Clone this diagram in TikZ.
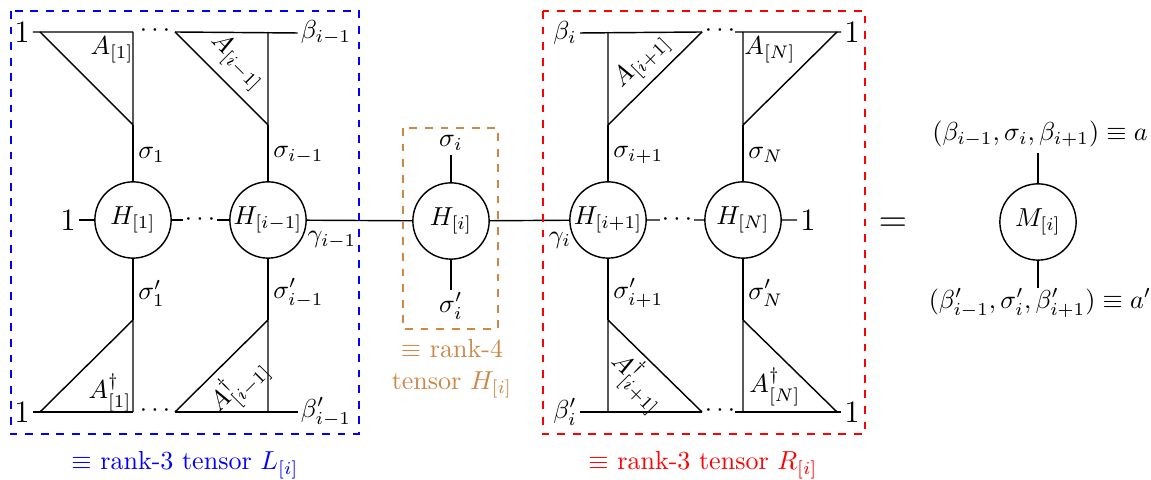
\documentclass[tikz,border=0pt]{standalone}
\usepackage{amssymb}
\usetikzlibrary{positioning}
\definecolor{rankbrown}{RGB}{205,135,70}

\begin{document}
\begin{tikzpicture}[
  x=0.0135cm, y=-0.0135cm, line width=0.55pt,
  tens/.style={draw, circle, minimum size=1.03cm, inner sep=0pt},
  lab/.style={inner sep=1pt},
  one/.style={inner sep=1pt, font=\large},
  dts/.style={inner sep=0.5pt},
  box/.style={dashed, semithick}
]
\useasboundingbox (0,0) rectangle (1151,480);

% left environment
\node[tens] (h1) at (133,220) {$H_{[1]}$};
\node[tens] (hl) at (268,220) {$H_{[i-1]}$};
\node[one] (l1) at (68,220) {1};
\node[dts] (ldots) at (200,220) {$\cdots$};
\draw (l1) -- (h1) -- (ldots) -- (hl);

\node[one] (tl1) at (22,32) {1};
\node[one] (bl1) at (22,412) {1};
\node[lab] (btl) at (326,33) {$\beta_{i-1}$};
\node[lab] (bbl) at (326,412) {$\beta'_{i-1}$};
\node[dts] at (155,31) {$\cdots$};
\node[dts] at (155,411) {$\cdots$};
\draw (tl1.east) -- (133,32) (175,32) -- (btl.west);
\draw (bl1.east) -- (133,412) (175,412) -- (bbl.west);
\draw (40,32) -- (133,125) -- (133,32);
\draw (175,32) -- (268,125) -- (268,32);
\draw (40,412) -- (133,320) -- (133,412);
\draw (175,412) -- (268,320) -- (268,412);
\draw (133,125) -- (h1) -- (133,320);
\draw (268,125) -- (hl) -- (268,320);
\node[lab] at (112,50) {$A_{[1]}$};
\node[lab, rotate=-45] at (237,62) {$A_{[i-1]}$};
\node[lab] at (110,393) {$A^\dagger_{[1]}$};
\node[lab, rotate=45] at (238,386) {$A^\dagger_{[i-1]}$};
\node[lab, anchor=west] at (135,155) {$\sigma_1$};
\node[lab, anchor=west] at (270,155) {$\sigma_{i-1}$};
\node[lab, anchor=west] at (135,293) {$\sigma'_1$};
\node[lab, anchor=west] at (270,293) {$\sigma'_{i-1}$};

% middle tensor
\node[tens] (hi) at (451,221) {$H_{[i]}$};
\node[lab] (si) at (451,143) {$\sigma_i$};
\node[lab] (sip) at (451,306) {$\sigma'_i$};
\draw (hi) -- (451,155) (hi) -- (451,290);
\draw (hl) -- (hi);
\node[lab] at (332,240) {$\gamma_{i-1}$};

% right environment
\node[tens] (hr) at (608,220) {$H_{[i+1]}$};
\node[tens] (hn) at (743,220) {$H_{[N]}$};
\node[one] (r1) at (808,220) {1};
\node[dts] (rdots) at (677,220) {$\cdots$};
\draw (hi) -- (hr) -- (rdots) -- (hn) -- (r1);
\node[lab] at (560,240) {$\gamma_i$};

\node[one] (tr1) at (852,32) {1};
\node[one] (br1) at (852,412) {1};
\node[lab] (btr) at (565,33) {$\beta_i$};
\node[lab] (bbr) at (565,412) {$\beta'_i$};
\node[dts] at (720,31) {$\cdots$};
\node[dts] at (720,411) {$\cdots$};
\draw (btr.east) -- (702,32) (735,32) -- (tr1.west);
\draw (bbr.east) -- (702,412) (735,412) -- (br1.west);
\draw (608,32) -- (608,125) -- (702,32);
\draw (743,32) -- (743,125) -- (837,32);
\draw (608,412) -- (608,320) -- (702,412);
\draw (743,412) -- (743,320) -- (837,412);
\draw (608,125) -- (hr) -- (608,320);
\draw (743,125) -- (hn) -- (743,320);
\node[lab, rotate=45] at (642,62) {$A_{[i+1]}$};
\node[lab] at (770,50) {$A_{[N]}$};
\node[lab, rotate=-45] at (638,382) {$A^\dagger_{[i+1]}$};
\node[lab] at (775,387) {$A^\dagger_{[N]}$};
\node[lab, anchor=west] at (610,155) {$\sigma_{i+1}$};
\node[lab, anchor=west] at (745,155) {$\sigma_N$};
\node[lab, anchor=west] at (610,293) {$\sigma'_{i+1}$};
\node[lab, anchor=west] at (745,293) {$\sigma'_N$};

% boxes
\draw[box, blue] (11,11) rectangle (359,434);
\draw[box, red] (543,11) rectangle (865,434);
\draw[box, rankbrown] (403,128) rectangle (498,329);
\node[blue] at (185,465) {$\equiv$ rank-3 tensor $L_{[i]}$};
\node[red] at (703,465) {$\equiv$ rank-3 tensor $R_{[i]}$};
\node[rankbrown, align=center] at (452,369) {$\equiv$ rank-4\\tensor $H_{[i]}$};

% result
\node[font=\Large] at (893,225) {$=$};
\node[tens] (m) at (1038,222) {$M_{[i]}$};
\node[lab] at (1040,134) {$(\beta_{i-1},\sigma_i,\beta_{i+1})\equiv a$};
\node[lab] at (1040,303) {$(\beta'_{i-1},\sigma'_i,\beta'_{i+1})\equiv a'$};
\draw (m) -- (1038,153) (m) -- (1038,288);
\end{tikzpicture}
\end{document}
